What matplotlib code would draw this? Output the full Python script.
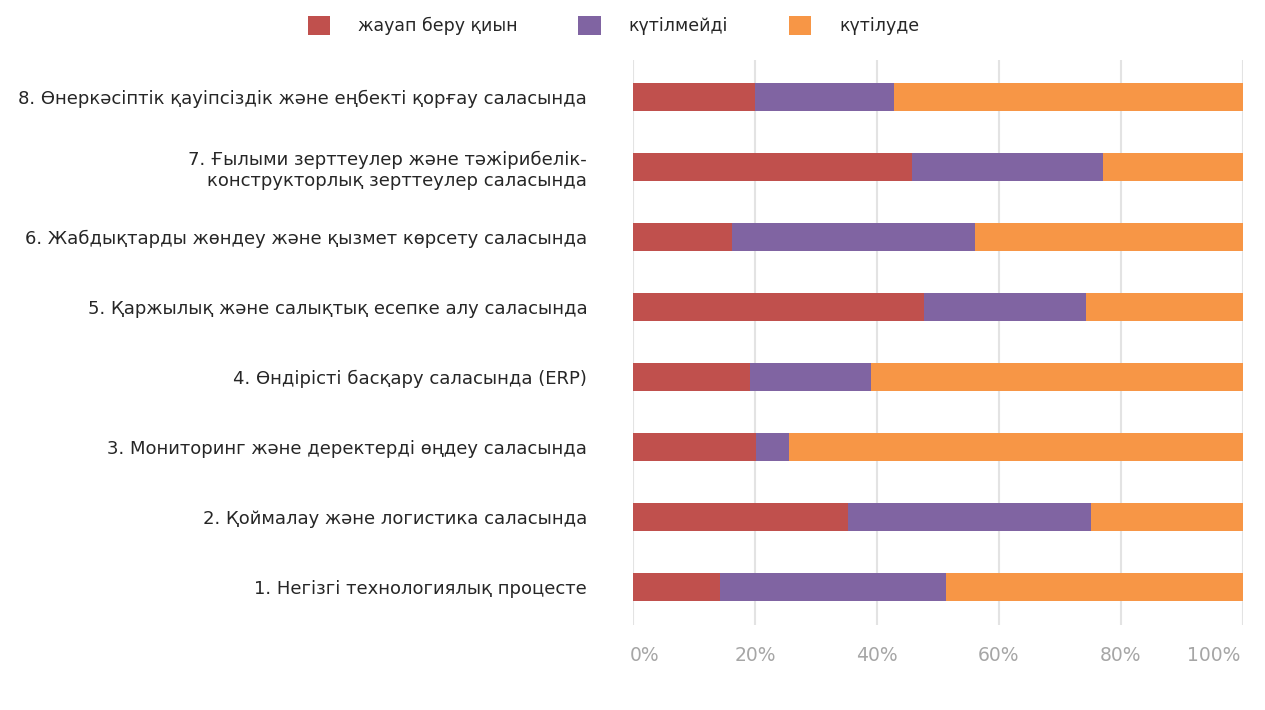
import matplotlib
matplotlib.use("Agg")
import matplotlib.pyplot as plt
from matplotlib.patches import Patch
from matplotlib.transforms import ScaledTranslation

plt.rcParams['font.family'] = ['DejaVu Sans']

# categories from bottom (1) to top (8)
categories = [
    "1. Негізгі технологиялық процесте",
    "2. Қоймалау және логистика саласында",
    "3. Мониторинг және деректерді өңдеу саласында",
    "4. Өндірісті басқару саласында (ERP)",
    "5. Қаржылық және салықтық есепке алу саласында",
    "6. Жабдықтарды жөндеу және қызмет көрсету саласында",
    "7. Ғылыми зерттеулер және тәжірибелік-\nконструкторлық зерттеулер саласында",
    "8. Өнеркәсіптік қауіпсіздік және еңбекті қорғау саласында",
]
series_names = ["жауап беру қиын", "күтілмейді", "күтілуде"]
hard_to_say = [14.3, 35.3, 20.1, 19.1, 47.7, 16.2, 45.7, 20.0]
not_expected = [37.0, 39.8, 5.5, 19.9, 26.5, 39.9, 31.4, 22.8]
expected = [100 - a - b for a, b in zip(hard_to_say, not_expected)]
tick_labels = ["0%", "20%", "40%", "60%", "80%", "100%"]

colors = ["#C0504D", "#8064A2", "#F79646"]

fig = plt.figure(figsize=(12.65, 7.1), dpi=100)
ax = fig.add_axes([0.5004, 0.1197, 0.4822, 0.7958])

y = list(range(len(categories)))
left = [0] * len(categories)
for vals, col in zip([hard_to_say, not_expected, expected], colors):
    ax.barh(y, vals, left=left, height=0.4, color=col, zorder=3)
    left = [l + v for l, v in zip(left, vals)]

ax.set_xlim(0, 100)
ax.set_ylim(-0.54, 7.53)
ax.set_xticks([0, 20, 40, 60, 80, 100])
ax.set_xticklabels(tick_labels, fontsize=13.5, color="#A6A6A6")
ax.set_yticks(y)
ax.set_yticklabels(categories, fontsize=13, color="#262626", ha="right")
ax.tick_params(axis="y", length=0, pad=33)
ax.tick_params(axis="x", length=0, pad=15)
ax.grid(axis="x", color="#E3E3E3", linewidth=1.5, zorder=0)
for s in ax.spines.values():
    s.set_visible(False)

# keep first/last tick labels inside like the original
xt = ax.get_xticklabels()
xt[0].set_transform(xt[0].get_transform() + ScaledTranslation(0.12, 0, fig.dpi_scale_trans))
xt[-1].set_transform(xt[-1].get_transform() + ScaledTranslation(-0.29, 0, fig.dpi_scale_trans))

handles = [Patch(facecolor=c) for c in colors]
fig.legend(handles, series_names, loc="upper center", bbox_to_anchor=(0.485, 1.0),
           ncol=3, frameon=False, fontsize=12.5, handlelength=1.3, handleheight=1.3,
           handletextpad=1.6, columnspacing=3.5, labelcolor="#262626")

fig.savefig("out.png", dpi=100)
